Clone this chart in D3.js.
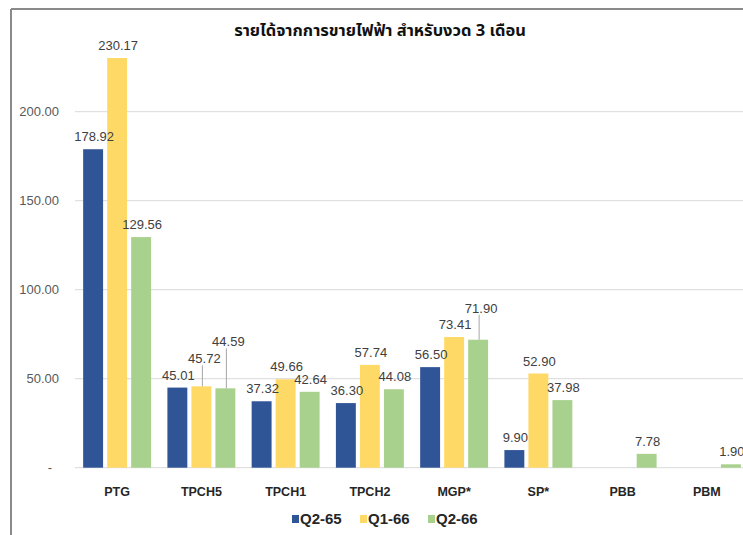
<!DOCTYPE html>
<html>
<head>
<meta charset="utf-8">
<script src="https://cdn.jsdelivr.net/npm/d3@7"></script>
<style>
  body { margin: 0; background: #fff; }
  svg { display: block; font-family: "Liberation Sans", Arial, sans-serif; }
</style>
</head>
<body>
<div id="chart"></div>
<script>
// ข้อมูล (ล้านบาท)
const categories = ["PTG", "TPCH5", "TPCH1", "TPCH2", "MGP*", "SP*", "PBB", "PBM"];
const seriesNames = ["Q2-65", "Q1-66", "Q2-66"];
const q2_65 = [178.92, 45.01, 37.32, 36.30, 56.50, 9.90, null, null];
const q1_66 = [230.17, 45.72, 49.66, 57.74, 73.41, 52.90, null, null];
const q2_66 = [129.56, 44.59, 42.64, 44.08, 71.90, 37.98, 7.78, 1.90];
const yTicks = [0, 50, 100, 150, 200];
const colors = ["#2f5597", "#ffd966", "#a9d18e"];
const title = "รายได้จากการขายไฟฟ้า สำหรับงวด 3 เดือน";

// ป้ายที่ถูกยกขึ้นพร้อมเส้นชี้
const raisedLabels = { "TPCH5|Q1-66": 15, "TPCH5|Q2-66": 34, "MGP*|Q2-66": 19 };

const W = 743, H = 535;
const svg = d3.select("#chart").append("svg")
    .attr("width", W).attr("height", H);

// กรอบ
svg.append("line").attr("x1", 11).attr("x2", W).attr("y1", 9).attr("y2", 9)
    .attr("stroke", "#8a8a8a").attr("stroke-width", 2);
svg.append("line").attr("x1", 11).attr("x2", 11).attr("y1", 9).attr("y2", H)
    .attr("stroke", "#8a8a8a").attr("stroke-width", 2);

const x0 = d3.scaleBand()
    .domain(categories)
    .range([75, 749])
    .paddingInner(0.145)
    .paddingOuter(0.0725);

const x1 = d3.scaleBand()
    .domain(seriesNames)
    .range([0, x0.bandwidth()])
    .paddingInner(0.17)
    .paddingOuter(0.085);

const y = d3.scaleLinear()
    .domain([0, 250])
    .range([467.7, 22.7]);

// เส้นกริด
svg.append("g")
    .selectAll("line")
    .data(yTicks)
    .enter().append("line")
    .attr("x1", 75).attr("x2", W)
    .attr("y1", d => y(d)).attr("y2", d => y(d))
    .attr("stroke", "#d9d9d9").attr("stroke-width", 1);

// แกน y
const yAxis = svg.append("g")
    .attr("transform", "translate(59,0)")
    .call(d3.axisLeft(y).tickValues(yTicks).tickSize(0).tickPadding(0)
        .tickFormat(d => d === 0 ? "-" : d3.format(".2f")(d)));
yAxis.select(".domain").remove();
yAxis.selectAll("text")
    .attr("font-size", 13)
    .attr("fill", "#595959")
    .attr("font-family", "Liberation Sans, Arial, sans-serif")
    .attr("dx", d => d === 0 ? -7 : 0);

// แท่ง
const rows = categories.map((c, i) => ({
    cat: c,
    values: [q2_65[i], q1_66[i], q2_66[i]].map((v, j) => ({ cat: c, key: seriesNames[j], value: v, color: colors[j] }))
}));

const groups = svg.append("g")
    .selectAll("g")
    .data(rows)
    .enter().append("g")
    .attr("transform", d => `translate(${x0(d.cat)},0)`);

groups.selectAll("rect")
    .data(d => d.values.filter(v => v.value != null))
    .enter().append("rect")
    .attr("x", d => x1(d.key))
    .attr("y", d => y(d.value))
    .attr("width", x1.bandwidth())
    .attr("height", d => y(0) - y(d.value))
    .attr("fill", d => d.color);

// เส้นชี้สำหรับป้ายที่ยกขึ้น
groups.selectAll("line.leader")
    .data(d => d.values.filter(v => v.value != null && raisedLabels[v.cat + "|" + v.key]))
    .enter().append("line")
    .attr("class", "leader")
    .attr("x1", d => x1(d.key) + x1.bandwidth() / 2 + 1)
    .attr("x2", d => x1(d.key) + x1.bandwidth() / 2 + 1)
    .attr("y1", d => y(d.value) - raisedLabels[d.cat + "|" + d.key] - 6)
    .attr("y2", d => y(d.value))
    .attr("stroke", "#a6a6a6").attr("stroke-width", 1);

// ป้ายข้อมูล
groups.selectAll("text")
    .data(d => d.values.filter(v => v.value != null))
    .enter().append("text")
    .attr("x", d => x1(d.key) + x1.bandwidth() / 2 + (raisedLabels[d.cat + "|" + d.key] ? 3 : 1))
    .attr("y", d => y(d.value) - 8 - (raisedLabels[d.cat + "|" + d.key] || 0))
    .attr("text-anchor", "middle")
    .attr("font-size", 13)
    .attr("fill", "#404040")
    .text(d => d3.format(".2f")(d.value));

// ป้ายหมวด
svg.append("g")
    .selectAll("text")
    .data(categories)
    .enter().append("text")
    .attr("x", d => x0(d) + x0.bandwidth() / 2)
    .attr("y", 496)
    .attr("text-anchor", "middle")
    .attr("font-size", 12.5)
    .attr("font-weight", "bold")
    .attr("fill", "#262626")
    .text(d => d);

// ชื่อกราฟ
svg.append("text")
    .attr("x", 380).attr("y", 36)
    .attr("text-anchor", "middle")
    .attr("font-size", 16.5)
    .attr("font-weight", "bold")
    .attr("fill", "#111")
    .attr("font-family", "'Noto Sans Thai', 'Noto Sans', Tahoma, sans-serif")
    .text(title);

// คำอธิบาย
const legendX = [292, 360, 428];
const legend = svg.append("g")
    .selectAll("g")
    .data(seriesNames)
    .enter().append("g")
    .attr("transform", (d, i) => `translate(${legendX[i]},515)`);

legend.append("rect")
    .attr("width", 7).attr("height", 8)
    .attr("fill", (d, i) => colors[i]);

legend.append("text")
    .attr("x", 8).attr("y", 9)
    .attr("font-size", 15)
    .attr("font-weight", "bold")
    .attr("fill", "#262626")
    .text(d => d);
</script>
</body>
</html>
